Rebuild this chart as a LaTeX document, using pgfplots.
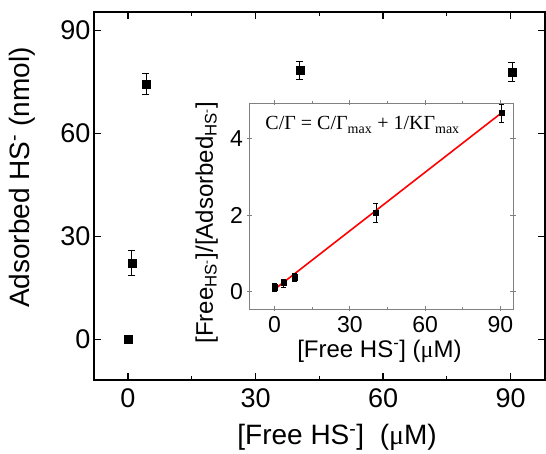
\documentclass[border=0pt]{standalone}
\usepackage{pgfplots}
\pgfplotsset{compat=1.18}
\usepackage{fontspec}
\setmainfont{Liberation Sans}
\newfontfamily\timesfont{Liberation Serif}
\begin{document}
\begin{tikzpicture}
\begin{axis}[
  at={(0pt,0pt)}, anchor=south west,
  scale only axis, width=451pt, height=368pt,
  xmin=-8, xmax=98.1, ymin=-11.9, ymax=95.3,
  xtick={0,30,60,90}, ytick={0,30,60,90},
  minor xtick={15,45,75},
  tick align=inside,
  major tick length=7pt, minor tick length=4pt,
  axis line style={line width=1.6pt},
  every tick/.style={black, line width=1.2pt},
  /pgf/number format/assume math mode=true,
  ticklabel style={font=\fontsize{27}{30}\selectfont},
  xticklabel style={yshift=-5pt},
  xlabel={[Free HS\textsuperscript{-}]\ \ ({\timesfont μ}M)},
  ylabel={Adsorbed HS\textsuperscript{-} (nmol)},
  label style={font=\fontsize{28}{32}\selectfont},
  xlabel style={at={(axis description cs:0.539,-0.155)}, anchor=center},
  ylabel style={at={(axis description cs:-0.16,0.55)}, anchor=center},
]
\addplot[only marks, mark=square*, mark size=4pt, black,
  error bars/.cd, y dir=both, y explicit,
  error mark options={rotate=90, mark size=3.5pt, line width=0.7pt, black},
  error bar style={line width=0.7pt, black}]
  coordinates {
  (0,0) +- (0,0)
  (0.9,22.2) +- (0,3.6)
  (4.2,74.4) +- (0,3.0)
  (40.4,78.3) +- (0,2.5)
  (90.3,77.9) +- (0,2.7)
  };
\end{axis}
\begin{axis}[
  at={(155pt,71pt)}, anchor=south west,
  scale only axis, width=264pt, height=206pt,
  xmin=-10.2, xmax=95, ymin=-0.46, ymax=4.93,
  xtick={0,30,60,90}, ytick={0,2,4},
  minor xtick={15,45,75},
  tick align=center,
  major tick length=5pt, minor tick length=3pt,
  axis background/.style={fill=white},
  axis line style={gray, line width=0.8pt},
  every tick/.style={gray, line width=0.8pt},
  /pgf/number format/assume math mode=true,
  ticklabel style={font=\fontsize{23}{26}\selectfont},
  xticklabel style={yshift=-1pt},
  xlabel={[Free HS\textsuperscript{-}] ({\timesfont μ}M)},
  ylabel={[Free\textsubscript{HS\textsuperscript{-}}]/[Adsorbed\textsubscript{HS\textsuperscript{-}}]},
  label style={font=\fontsize{24}{28}\selectfont},
  xlabel style={at={(axis description cs:0.494,-0.205)}, anchor=center},
  ylabel style={at={(axis description cs:-0.16,0.42)}, anchor=center},
]
\addplot[red, line width=1.6pt] coordinates {(-0.5,0.03) (90.4,4.67)};
\addplot[only marks, mark=square*, mark size=2.6pt, black,
  error bars/.cd, y dir=both, y explicit,
  error mark options={rotate=90, mark size=2.5pt, line width=0.5pt, black},
  error bar style={line width=0.5pt, black}]
  coordinates {
  (0,0.11) +- (0,0.1)
  (3.6,0.22) +- (0,0.1)
  (8,0.37) +- (0,0.1)
  (40.4,2.06) +- (0,0.24)
  (90.4,4.67) +- (0,0.24)
  };
\node[anchor=base west, font=\timesfont\fontsize{20}{22}\selectfont] at (rel axis cs:0.049,0.869) {C/Γ = C/Γ\textsubscript{max} + 1/KΓ\textsubscript{max}};
\end{axis}
\pgfresetboundingbox
\useasboundingbox (-94pt,-74pt) rectangle (452pt,380pt);
\end{tikzpicture}
\end{document}
